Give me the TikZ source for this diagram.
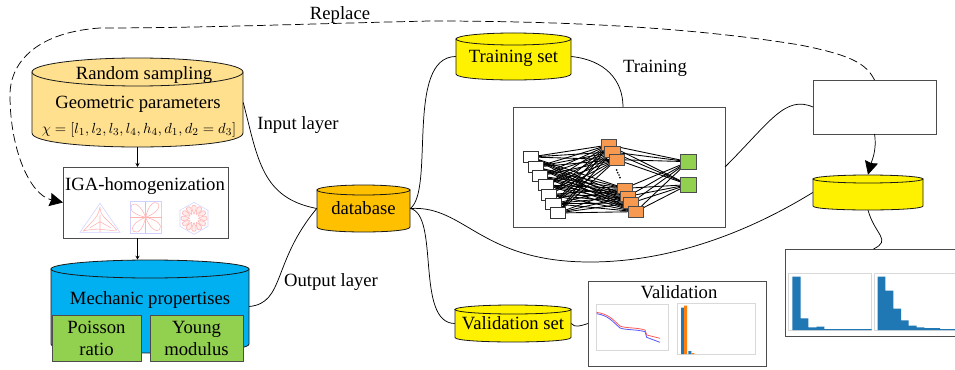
\documentclass[tikz,border=0pt]{standalone}
\usepackage{fontspec}
\setmainfont{Liberation Serif}
\usetikzlibrary{arrows.meta,calc}
\newcommand\fsz{\fontsize{14}{16.5}\selectfont}
% cylinder: name,x0,x1,ytop,ybottom(lowest),ry,fill,text
\newcommand\cylnode[8]{%
  \pgfmathsetmacro\cxa{(#2+#3)/2}\pgfmathsetmacro\cya{(#4+#5)/2}%
  \pgfmathsetmacro\wa{(#3-#2)*0.75}\pgfmathsetmacro\ha{(#5-#4)*0.75}%
  \pgfmathsetmacro\yt{#4+#6}\pgfmathsetmacro\yb{#5-#6}\pgfmathsetmacro\yc{#5-#6+(4/3)*#6}%
  \pgfmathsetmacro\rxa{(#3-#2)/2}%
  \draw[cylline,fill=#7] (#2,\yt) -- (#2,\yb) .. controls (#2,\yc) and (#3,\yc) .. (#3,\yb) -- (#3,\yt) -- cycle;
  \draw[cylline,fill=#7] (\cxa,\yt) ellipse [x radius=\rxa,y radius=#6];
  \node[inner sep=0pt,minimum width=\wa pt,minimum height=\ha pt,font=\fsz,text height=10.5pt,text depth=2pt] (#1) at (\cxa,\cya) {#8};
}
% rectangle: name,x0,y0,x1,y1,style,text
\newcommand\rectnode[7]{%
  \pgfmathsetmacro\cxa{(#2+#4)/2}\pgfmathsetmacro\cya{(#3+#5)/2}%
  \pgfmathsetmacro\wa{(#4-#2)*0.75}\pgfmathsetmacro\ha{(#5-#3)*0.75}%
  \node[boxst,#6,minimum width=\wa pt,minimum height=\ha pt] (#1) at (\cxa,\cya) {#7};
}
\tikzset{
  cylline/.style={draw=black!90,line width=0.6pt},
  boxst/.style={draw=black!70,line width=0.7pt,inner sep=0pt,outer sep=0pt,fill=white,font=\fsz,align=center},
  lab/.style={inner sep=0pt,font=\fsz,text height=10.5pt,text depth=2pt},
  conn/.style={draw=black,line width=0.55pt},
  smallarrow/.style={conn,-{Stealth[length=3pt,width=3pt]}},
  bigarrow/.style={conn,-{Stealth[length=10pt,width=10pt,inset=1pt]}},
  netin/.style={draw=black!80,fill=white,line width=0.6pt,minimum width=11.5pt,minimum height=8pt,inner sep=0pt},
  nethid/.style={draw=black!70,line width=0.6pt,minimum width=11.5pt,minimum height=8pt,inner sep=0pt},
  netout/.style={draw=black!70,fill=leaf,line width=0.6pt,minimum width=11.5pt,minimum height=11pt,inner sep=0pt},
  netline/.style={draw=black,line width=0.65pt},
  zoomA/.style={shift={(0,50)},x=0.25pt,y=-0.25pt},
  zoomB/.style={shift={(500,100)},x=0.25pt,y=-0.25pt},
  zoomC/.style={shift={(580,270)},x=0.25pt,y=-0.25pt},
  zoomD/.style={shift={(770,70)},x=0.25pt,y=-0.25pt},
  geoedge/.style={draw=blue!18,line width=0.4pt},
  geored/.style={draw=red!30,line width=0.4pt},
  plotframe/.style={draw=black!15,line width=0.5pt},
}
\definecolor{leaf}{HTML}{92D050}
\definecolor{sand}{HTML}{FFE08F}
\definecolor{sky}{HTML}{00B0F0}
\definecolor{amber}{HTML}{FFC000}
\definecolor{barblue}{HTML}{1F77B4}
\definecolor{barorange}{HTML}{FF7F0E}
\definecolor{hidorange}{HTML}{F79A50}
\begin{document}
\begin{tikzpicture}[x=0.75pt,y=-0.75pt]
\useasboundingbox (0,0) rectangle (955,370);
\clip (0,0) rectangle (955,370);

% left column
\cylnode{rs}{32}{243}{58}{147}{14}{sand}{}
\node[lab] (rstitle) at (144,74) {Random sampling};
\node[lab] (rsgeo) at (138,102.5) {Geometric parameters};
\node[lab,font=\fontsize{11.3}{14}\selectfont] (rsform) at (139,127.5) {$\chi=[l_1,l_2,l_3,l_4,h_4,d_1,d_2=d_3]$};
\rectnode{iga}{63}{167}{228}{238}{}{}
\node[lab] (igatitle) at (145,185) {IGA-homogenization};
\cylnode{mp}{51}{249}{260}{353}{9}{sky}{}
\node[lab] (mptitle) at (150,298.5) {Mechanic propertises};
\rectnode{pr}{52}{315}{141}{361}{fill=leaf}{Poisson\\ratio}
\rectnode{ym}{150}{315}{243}{361}{fill=leaf}{Young\\modulus}

% IGA thumbnails
\begin{scope}[zoomA]
  \draw[geoedge] (240,547) -- (300,460) -- (360,547) -- cycle;
  \draw[geored] (300,470) .. controls (300,500) and (320,505) .. (350,540) .. controls (320,545) and (300,530) .. (250,543) .. controls (285,505) and (295,500) .. (300,470);
  \draw[geored] (300,495) -- (300,515) -- (270,533) (300,515) -- (332,533) (300,515) -- (300,547);
  \draw[geoedge] (390,455) rectangle (485,550);
  \draw[geored] (390,502) -- (485,502) (437,455) -- (437,550);
  \foreach \r in {0,90,180,270}{
    \draw[geored,rotate around={\r:(437,502)}] (437,502) .. controls (425,470) and (405,455) .. (395,465) .. controls (385,480) and (405,495) .. (437,502);
  }
  \draw[geoedge] (582,457) -- (624,481) -- (624,529) -- (582,553) -- (540,529) -- (540,481) -- cycle;
  \foreach \r in {0,30,...,330}{
    \draw[geored,fill=red!8,rotate around={\r:(582,505)}] (582,492) .. controls (572,475) and (574,466) .. (582,466) .. controls (590,466) and (592,475) .. (582,492);
  }
\end{scope}

% database and sets
\cylnode{db}{317}{410}{185}{232}{5}{amber}{database}
\cylnode{ts}{456}{571}{33}{80}{6}{yellow}{Training set}
\cylnode{vs}{455}{571}{305}{342}{4.5}{yellow}{Validation set}
\cylnode{ps}{813}{923}{175}{210}{4}{yellow}{}

% network
\rectnode{nb}{513}{107}{725}{227}{}{}
\begin{scope}[zoomB]
  \foreach \n/\a/\b in {i1/92/171,i2/108/201,i3/120/228,i4/137/255,i5/147/284,i6/160/311,i7/173/339}
    \coordinate (\n) at (\a,\b);
  \foreach \n/\a/\b in {h1/326/135,h2/337/156,h3/350/179,h4/374/265,h5/384/289,h6/393/309,h7/407/335}
    \coordinate (\n) at (\a,\b);
  \foreach \n/\a/\b in {o1/565/185,o2/565/254}
    \coordinate (\n) at (\a,\b);
  \foreach \i in {1,...,7}{\foreach \h in {1,...,7}{\draw[netline] (i\i) -- (h\h);}}
  \foreach \h in {1,...,7}{\foreach \o in {1,2}{\draw[netline] (h\h) -- (o\o);}}
  \foreach \n/\a/\b in {ni1/92/171,ni2/108/201,ni3/120/228,ni4/137/255,ni5/147/284,ni6/160/311,ni7/173/339}
    \node[netin] (\n) at (\a,\b) {};
  \foreach \n/\a/\b in {nh1/326/135,nh2/337/156,nh3/350/179,nh4/374/265,nh5/384/289,nh6/393/309,nh7/407/335}
    \node[nethid,fill=hidorange] (\n) at (\a,\b) {};
  \foreach \n/\a/\b in {no1/565/185,no2/565/254}
    \node[netout] (\n) at (\a,\b) {};
  \foreach \a/\b in {350/210,353/218,357/225,360/233}
    \fill[black] (\a,\b) circle [radius=2.8];
\end{scope}

% result boxes
\rectnode{wb}{813}{80}{936}{134}{}{}
\rectnode{hb}{785}{249}{962}{336}{}{}
\begin{scope}[zoomD]
  \draw[plotframe] (55,610) rectangle (305,780);
  \draw[plotframe] (312,610) rectangle (600,780);
  \fill[barblue] (67,620) rectangle (92,780) (92,745) rectangle (115,780) (115,772) rectangle (140,780) (140,770) rectangle (163,780) (163,777) rectangle (305,780);
  \fill[barblue] (323,620) rectangle (346,780) (346,662) rectangle (370,780) (370,716) rectangle (393,780) (393,751) rectangle (416,780) (416,767) rectangle (440,780) (440,772) rectangle (463,780) (463,774) rectangle (510,780) (510,777) rectangle (555,780);
\end{scope}

% validation box
\rectnode{vb}{588}{281}{766}{366}{}{}
\node[lab] (vbtitle) at (679,293) {Validation};
\begin{scope}[zoomC]
  \draw[plotframe] (50,103) rectangle (265,242);
  \draw[plotframe] (293,100) rectangle (527,252);
  \draw[red!65,line width=0.6pt] (50,127) .. controls (85,133) and (95,145) .. (120,168) .. controls (135,175) and (170,172) .. (195,180) -- (200,195) -- (240,205);
  \draw[blue!65,line width=0.6pt] (50,131) .. controls (85,137) and (95,152) .. (120,174) .. controls (135,180) and (170,178) .. (195,185) -- (200,202) -- (240,217);
  \fill[barblue] (303,113) rectangle (312,252) (325,243) rectangle (334,252);
  \fill[barorange] (312,107) rectangle (321,252) (334,249) rectangle (343,252);
\end{scope}

% labels
\node[lab] (replace) at (340,14) {Replace};
\node[lab] (inl) at (298,124) {Input layer};
\node[lab] (outl) at (331,281) {Output layer};
\node[lab] (tr) at (655,67) {Training};

% connectors
\draw[smallarrow] (rs.south) -- (rs.south |- iga.north);
\draw[smallarrow] (rs.south |- iga.south) -- (rs.south |- mp.north);
\draw[conn] (rs.east) .. controls (258,160) and (262,198) .. (db.west);
\draw[conn] (mp.east) .. controls (285,303) and (272,262) .. (db.west);
\draw[conn] (db.east) .. controls (435,190) and (405,57) .. (ts.west);
\draw[conn] (db.east) .. controls (440,215) and (415,323) .. (vs.west);
\draw[conn] (db.east) .. controls (465,205) and (480,262) .. (590,262) .. controls (680,262) and (760,225) .. (ps.west);
\draw[conn] (vs.east) .. controls (575,328) and (580,326) .. (vb.west);
\draw[conn] (ts.east) .. controls (605,60) and (623,80) .. (nb.north -| 623,0);
\draw[conn] (nb.east) .. controls (770,122) and (785,95) .. (wb.west);
\draw[bigarrow] (wb.south) .. controls (877,150) and (872,160) .. (ps.north);
\draw[conn] (ps.south) .. controls (875,235) and (892,240) .. (hb.north);
\draw[bigarrow,dash pattern=on 6.5pt off 3pt] (wb.north) .. controls (866,63) and (850,55) .. (800,45) .. controls (690,27) and (560,21) .. (430,21) .. controls (300,24) and (200,28) .. (100,28) .. controls (40,32) and (10,60) .. (10,95) .. controls (10,150) and (30,195) .. (iga.west);
\end{tikzpicture}
\end{document}
